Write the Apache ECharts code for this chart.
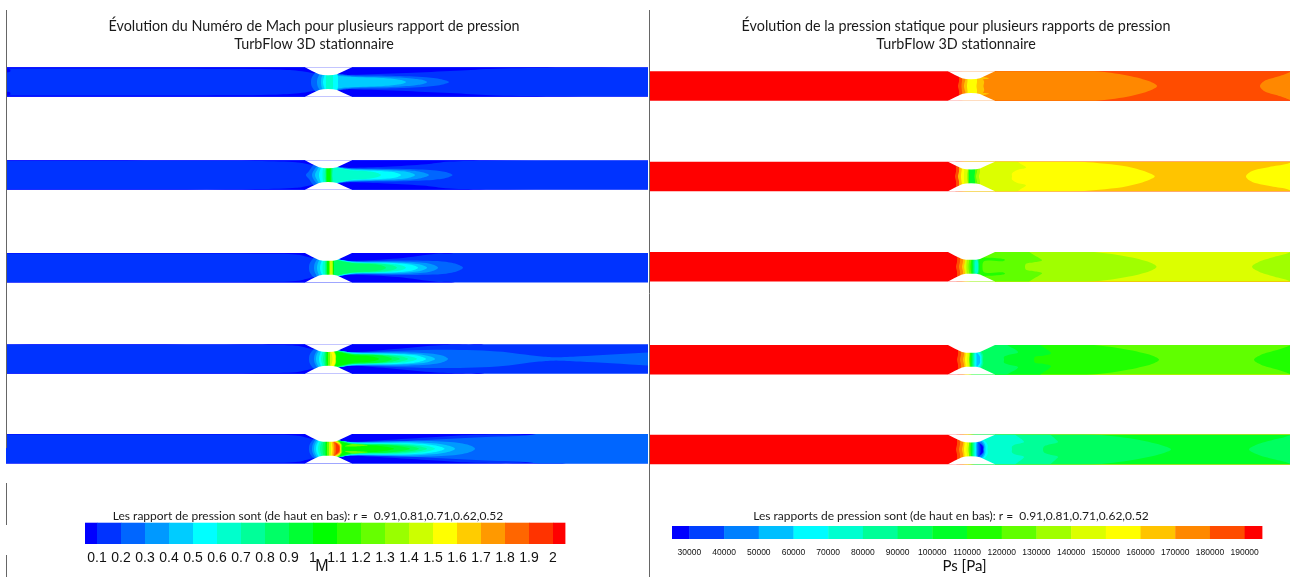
<!DOCTYPE html>
<html><head><meta charset="utf-8">
<style>html,body{margin:0;padding:0;background:#fff}#c{width:1291px;height:577px}</style>
<script src="https://cdn.jsdelivr.net/npm/echarts@6/dist/echarts.min.js"></script>
</head><body><div id="c"></div>
<script>
// Colour scales
const machColors=['#0000ff','#0033ff','#0066ff','#0099ff','#00ccff','#00ffff','#00ffcc','#00ff99','#00ff66','#00ff33','#00ff00','#33ff00','#66ff00','#99ff00','#ccff00','#ffff00','#ffcc00','#ff9900','#ff6600','#ff3300','#ff0000'];
const machEdges=[0.05,0.1,0.2,0.3,0.4,0.5,0.6,0.7,0.8,0.9,1,1.1,1.2,1.3,1.4,1.5,1.6,1.7,1.8,1.9,2,2.05];
const psColors=['#0000ff','#0040ff','#0080ff','#00bfff','#00fcff','#00ffd0','#00ff98','#00ff60','#00ff28','#20ff00','#60ff00','#a0ff00','#dcff00','#ffff00','#ffc400','#ff8800','#ff4c00','#ff0000'];
const psEdges=[25000,30000,40000,50000,60000,70000,80000,90000,100000,110000,120000,130000,140000,150000,160000,170000,180000,190000,195000];
// Nozzle wall, [axial position, half height]
const wallProfile=[[299,16],[299,15],[306,11.3],[313,8],[317,7.2],[322,7],[327,7.2],[331,8],[338,11.3],[346,15],[346,16]];
// Contour bands: [colour index, outline of upper half]; a band closed on the axis joins its mirror image
const mach1=[
[1,[[-5,-20],[660,-20],[660,20],[-5,20]]],
[0,[[-40,40],[-40,13.8],[-30,13.8],[100,13.7],[200,13.6],[270,12.8],[296,11],[322,6.5],[346,7.3],[400,9.2],[450,11.5],[490,13.6],[560,14.5],[700,14.8],[710,14.8],[720,14.8],[720,40]]],
[0,[[-5,13.5],[4,13],[4,10.5],[-5,10.5]]],
[2,[[305,0],[306,5],[312,11],[335,8],[346,6.9],[385,6.4],[420,4.8],[437,2.4],[443,0]]],
[3,[[311,0],[312,5],[316,10],[332,7.5],[346,5.9],[385,5],[408,3.4],[418,1.7],[421,0]]],
[4,[[315,0],[316,6],[320,10],[332,6.5],[346,5.2],[375,4.2],[392,2.6],[398,1.2],[400,0]]],
[5,[[317,0],[318,5],[320,10],[330,10],[332,5],[332,0]]],
[6,[[320,0],[320,5],[321,9],[326,9],[327,5],[327,0]]]];
const mach2=[
[1,[[-5,-20],[660,-20],[660,20],[-5,20]]],
[0,[[-40,40],[-40,14.4],[-30,14.4],[100,14.4],[250,14.3],[290,13],[300,11.5],[322,6.5],[346,7.3],[380,8.5],[420,11],[440,13.4],[480,14.6],[700,14.9],[710,14.9],[720,14.9],[720,40]]],
[2,[[300,0],[303,4],[309,11],[335,8],[346,7],[400,6.2],[430,4.6],[442,2.4],[446.5,0]]],
[3,[[306,0],[308,5],[313,10],[335,7.5],[346,6.4],[395,5.2],[415,3.2],[423,0]]],
[4,[[309,0],[311,5],[315,10],[335,7],[346,5.9],[385,4.6],[403,2.8],[409,0]]],
[5,[[313,0],[314,5],[317,10],[335,7],[346,5.2],[375,4],[390,2.4],[395,0]]],
[6,[[316.5,0],[317,6],[319,10],[333,7],[346,4.8],[360,4],[371,2.2],[375,0]]],
[7,[[318.6,0],[319,5],[320,10],[327,10],[327,5],[326.5,0]]],
[9,[[320,0],[320,5],[321,10],[325.5,10],[325.5,5],[325.5,0]]],
[10,[[321,0],[321,5],[321.5,9],[324.5,9],[324.5,5],[324.5,0]]]];
const mach3=[
[1,[[-5,-20],[660,-20],[660,20],[-5,20]]],
[0,[[-40,40],[-40,14.5],[-30,14.5],[100,14.4],[250,14.3],[290,13.5],[300,11.5],[322,6.5],[346,7],[392,9.5],[430,14.3],[450,16],[470,40]]],
[2,[[303,0],[304,5],[310,11],[335,8],[346,6.7],[400,7.4],[440,6],[453,2.8],[457,0]]],
[3,[[308,0],[309,5],[314,11],[335,8],[346,6.5],[400,6.2],[425,3.8],[432,0]]],
[4,[[311,0],[312,5],[316,11],[335,8],[346,6.1],[395,5.2],[415,3],[421,0]]],
[5,[[314,0],[315,5],[318,10],[335,8],[346,5.8],[390,4.6],[407,2.6],[412,0]]],
[6,[[316.5,0],[317,5],[319,10],[335,7],[346,5.4],[385,4],[396,2.2],[400,0]]],
[7,[[319,0],[319,5],[320,10],[335,7],[346,5.2],[375,4.1],[387,2.2],[391,0]]],
[8,[[320,0],[320,5],[321,10],[335,7],[346,4.8],[368,3.6],[377,1.9],[380,0]]],
[10,[[321,0],[321,5],[322,9],[327,9],[328,4],[328,0]]],
[12,[[323,0],[323,5],[323,9],[326.5,9],[327,4],[327,0]]],
[14,[[324,0],[324,5],[324,8],[326,8],[326.5,4],[326.5,0]]]];
const mach4=[
[1,[[-5,-20],[660,-20],[660,20],[-5,20]]],
[0,[[-40,40],[-40,14.6],[-30,14.6],[100,14.5],[250,14.4],[290,13.5],[300,11.5],[322,6.5],[346,6.7],[388,10],[429,13.7],[460,14.8],[480,16],[500,40]]],
[2,[[303,0],[304,5],[310,11],[335,8],[346,6.8],[429,9.3],[491,7.7],[533,2.7],[550,1.7],[574,2.7],[642,6.6],[720,11],[720,0]]],
[3,[[308,0],[309,5],[313,10],[335,8],[346,6.8],[400,6.8],[430,4.8],[439,2.4],[442,0]]],
[4,[[310,0],[311,5],[315,10],[335,8],[346,6.5],[395,5.6],[420,3.6],[429,0]]],
[5,[[313,0],[314,5],[317,10],[335,8],[346,6.1],[395,4.9],[413,3],[420,0]]],
[6,[[315,0],[316,5],[318,10],[335,8],[346,5.7],[385,4.4],[404,2.6],[411,0]]],
[7,[[317,0],[318,5],[320,10],[335,8],[346,5.4],[380,4.1],[396,2.4],[402,0]]],
[8,[[319,0],[319,5],[320,10],[335,7],[346,5.1],[375,3.8],[388,2.2],[394,0]]],
[9,[[320,0],[320,5],[321,10],[335,7],[346,4.8],[372,3.8],[382,2],[386,0]]],
[10,[[320.5,0],[321,5],[321,9],[333,7],[346,4],[362,3],[370,1.6],[373,0]]],
[12,[[322,0],[322,5],[322.5,9],[328,8],[330,4],[330,0]]],
[14,[[324,0],[324,4],[324,8],[327,8],[329.5,4],[329.5,0]]],
[15,[[326.5,0],[326,4],[325,8],[327,8],[329,4],[329.3,0]]]];
const mach5=[
[1,[[-5,-20],[660,-20],[660,20],[-5,20]]],
[0,[[-40,40],[-40,14.6],[-30,14.6],[100,14.5],[250,14.4],[290,13.5],[300,11.5],[322,6.5],[346,7],[390,9.5],[430,12],[460,13.8],[500,14.7],[560,15.5],[590,40]]],
[2,[[303,0],[304,5],[310,11],[335,8],[346,6.9],[400,8],[440,10],[480,12],[533,15.5],[600,40],[720,40],[720,0]]],
[3,[[306,0],[307,5],[312,11],[335,8],[346,6.8],[420,8],[455,5.6],[466,2.5],[469,0]]],
[4,[[308,0],[309,5],[314,11],[335,8],[346,6.5],[410,6.6],[440,3.8],[449,0]]],
[5,[[310,0],[311,5],[315,10],[335,8],[346,6.2],[405,5.6],[430,3.2],[438.5,0]]],
[6,[[312,0],[313,5],[316,10],[335,8],[346,5.9],[400,5],[421,2.8],[429,0]]],
[7,[[314,0],[315,5],[318,10],[335,8],[346,5.6],[390,4.5],[413,2.5],[421,0]]],
[8,[[316.5,0],[317,5],[319,10],[335,8],[346,5.2],[385,4.1],[406,2.2],[413,0]]],
[9,[[318.6,0],[319,5],[320,10],[335,7.5],[346,4.8],[380,3.8],[397,2],[404,0]]],
[10,[[320,0],[320,5],[321,10],[335,7],[346,4.3],[370,3.2],[382,1.7],[388,0]]],
[12,[[339,2.5],[345,4.6],[355,4.3],[362,3.4],[350,2.4]]],
[12,[[321,0],[321,5],[322,9],[332,8],[336,4],[336,0]]],
[14,[[323,0],[323,5],[323.5,9],[331,8],[335,4],[335,0]]],
[15,[[325,0],[325,5],[325,8.5],[330,7.5],[334.5,4],[334.5,0]]],
[16,[[326.5,0],[326,4],[326,8],[330,7],[334,4],[334.3,0]]],
[17,[[327.5,0],[327.5,4],[327,7.5],[330,6.5],[334,3.5],[334,0]]],
[18,[[328.5,0],[328.5,3],[328,7],[330,6],[333.5,3],[333.8,0]]],
[19,[[330,0],[330,3],[329.5,6],[331,5],[333,2.5],[333.4,0]]]];
const pressure1=[
[17,[[-5,-20],[660,-20],[660,20],[-5,20]]],
[16,[[309,0],[310,5],[315,40],[720,40],[720,0]]],
[15,[[312.5,0],[313,5],[320,40],[415,17],[449,15],[482,10],[503,3.7],[508,0]]],
[15,[[611,0],[615,5],[630,10],[641,14.3],[680,40],[720,40],[720,0]]],
[14,[[315,0],[316,5],[318,10],[330,10],[335,5],[334.5,0]]],
[14,[[326,6.5],[335,7],[340,7.7],[335,9],[326,9]]],
[13,[[318,0],[318.5,5],[319,10],[327,10],[328,5],[327.5,0]]]];
const pressure2=[
[17,[[-5,-20],[660,-20],[660,20],[-5,20]]],
[16,[[306,0],[307,5],[312,40],[720,40],[720,0]]],
[14,[[309,0],[310,5],[315,40],[720,40],[720,0]]],
[13,[[312,0],[313,8],[320,40],[400,17],[433,15],[478,10],[500,3.5],[505.7,0]]],
[13,[[597,0],[602,5],[622,10],[641,14],[680,40],[720,40],[720,0]]],
[12,[[315,0],[315.5,8],[324,40],[358,25],[370,14],[377,9],[368,6.5],[363,3],[363,0]]],
[11,[[318,0],[318.5,5],[320,10],[330,10],[331,5],[330,0]]],
[10,[[319,0],[319,5],[320,10],[328,10],[328,5],[327,0]]],
[8,[[320,0],[320,5],[320.5,10],[325.5,10],[326,5],[325.5,0]]]];
const pressure3=[
[17,[[-5,-20],[660,-20],[660,20],[-5,20]]],
[16,[[307,0],[308,5],[313,40],[720,40],[720,0]]],
[15,[[310,0],[311,5],[316,40],[720,40],[720,0]]],
[14,[[313,0],[314,5],[319,40],[720,40],[720,0]]],
[12,[[315,0],[316,5],[321,40],[720,40],[720,0]]],
[11,[[317.4,0],[318,8],[325,40],[412,17],[445,15],[480,10],[503,3.5],[507.5,0]]],
[11,[[603,0],[610,5],[625,10],[641,14.7],[680,40],[720,40],[720,0]]],
[10,[[319.5,0],[320,5],[327,40],[372,25],[381,14.5],[390,9],[393,6.5],[385,4.5],[377,3],[376,0]]],
[9,[[321.5,0],[322,5],[323,8],[354,8],[356,7],[354,5.7],[335,5.5],[333.5,0]]],
[8,[[323,0],[323,5],[323.5,9],[329,9],[331,5],[331,0]]],
[7,[[324,0],[324,5],[325,9],[328.5,9],[330,5],[330,0]]],
[6,[[325,0],[325,5],[326,8],[328,8],[329,5],[329.5,0]]],
[5,[[326,0],[326,4],[327,7],[328,7],[329,4],[329,0]]]];
const pressure4=[
[17,[[-5,-20],[660,-20],[660,20],[-5,20]]],
[16,[[308,0],[309,5],[314,40],[720,40],[720,0]]],
[15,[[311,0],[312,5],[317,40],[720,40],[720,0]]],
[14,[[314,0],[315,5],[320,40],[720,40],[720,0]]],
[13,[[316,0],[316.5,5],[321,40],[720,40],[720,0]]],
[12,[[318,0],[318.5,5],[323,40],[720,40],[720,0]]],
[10,[[320,0],[320.5,5],[325,40],[720,40],[720,0]]],
[9,[[321,0],[321.5,8],[327,40],[412,17],[445,15],[480,10],[505,3.5],[510,0]]],
[9,[[605,0],[612,5],[628,10],[641,14.5],[680,40],[720,40],[720,0]]],
[8,[[322,0],[322,8],[328,40],[382,25],[392,14.5],[400,9],[402,6.5],[394,4],[386,3],[385,0]]],
[7,[[323,0],[323,8],[329,40],[350,25],[359,14.5],[367,10],[369,7.5],[360,5],[355,3],[355,0]]],
[6,[[324,0],[324,5],[325,9],[331,9],[334,5],[334,0]]],
[5,[[325,0],[325,5],[326,9],[330,9],[332.5,5],[333,0]]],
[4,[[326,0],[326,5],[327,8],[329,8],[332,4],[332,0]]],
[3,[[327.5,0],[327.5,4],[327.5,7],[329,6],[331,3],[331,0]]]];
const pressure5=[
[17,[[-5,-20],[660,-20],[660,20],[-5,20]]],
[16,[[307,0],[308,5],[313,40],[720,40],[720,0]]],
[15,[[310,0],[311,5],[316,40],[720,40],[720,0]]],
[14,[[313,0],[314,5],[319,40],[720,40],[720,0]]],
[13,[[315,0],[315.5,5],[320,40],[720,40],[720,0]]],
[12,[[317.4,0],[318,5],[323,40],[720,40],[720,0]]],
[10,[[319.5,0],[320,5],[325,40],[720,40],[720,0]]],
[8,[[321.5,0],[322,8],[327,40],[720,40],[720,0]]],
[7,[[323,0],[323,8],[329,40],[417,17],[450,15],[488,10],[515,3.5],[522,0]]],
[7,[[600,0],[608,5],[625,10],[641,14.5],[680,40],[720,40],[720,0]]],
[6,[[324,0],[324,8],[330,40],[392,25],[402,14.5],[407,10],[409,7.5],[400,5],[395,3],[394,0]]],
[5,[[325,0],[325,8],[331,40],[358,25],[367,14.5],[373,10],[375,7.5],[366,5],[363,3],[363,0]]],
[4,[[326,0],[326,5],[326.5,9],[335,9],[338.5,5],[338.5,0]]],
[3,[[327,0],[327,5],[328,9],[333,9],[336,5],[336.5,0]]],
[2,[[328,0],[328,5],[329,8],[332,8],[335,4],[335,0]]],
[1,[[329.5,0],[329.5,4],[329.5,7],[331,6.5],[334.5,3],[334.5,0]]],
[0,[[331.5,0],[331.5,3],[331,5.5],[332,5],[334,2.5],[334,0]]]];
// Text
const machTitle='Évolution du Numéro de Mach pour plusieurs rapport de pression\nTurbFlow 3D stationnaire';
const psTitle='Évolution de la pression statique pour plusieurs rapports de pression\nTurbFlow 3D stationnaire';
const machNote='Les rapport de pression sont (de haut en bas): r =  0.91,0.81,0.71,0.62,0.52';
const psNote='Les rapports de pression sont (de haut en bas): r =  0.91,0.81,0.71,0.62,0.52';
const machUnit='M', psUnit='Ps [Pa]';

const machStrips=[mach1,mach2,mach3,mach4,mach5];
const psStrips=[pressure1,pressure2,pressure3,pressure4,pressure5];
const machTops=[67.3,160.3,253,344.2,434];
const psTops=[71.3,161.7,252,345,434.7];

// Rounds a closed contour outline (centripetal Catmull-Rom, does not overshoot)
function roundLoop(pts){
  const n=pts.length,out=[];
  const gap=(a,b)=>Math.max(Math.sqrt(Math.hypot(a[0]-b[0],a[1]-b[1])),1e-3);
  const mix=(a,b,ta,tb,t)=>[a[0]*(tb-t)/(tb-ta)+b[0]*(t-ta)/(tb-ta),a[1]*(tb-t)/(tb-ta)+b[1]*(t-ta)/(tb-ta)];
  for(let i=0;i<n;i++){
    const p0=pts[(i-1+n)%n],p1=pts[i],p2=pts[(i+1)%n],p3=pts[(i+2)%n];
    const t0=0,t1=t0+gap(p0,p1),t2=t1+gap(p1,p2),t3=t2+gap(p2,p3);
    for(let j=0;j<8;j++){
      const t=t1+(t2-t1)*j/8;
      const a1=mix(p0,p1,t0,t1,t),a2=mix(p1,p2,t1,t2,t),a3=mix(p2,p3,t2,t3,t);
      const b1=mix(a1,a2,t0,t2,t),b2=mix(a2,a3,t1,t3,t);
      out.push(mix(b1,b2,t1,t2,t));
    }
  }
  return out;
}

const grid=[],xAxis=[],yAxis=[],series=[];
function addStrip(bands,colors,left,width,top){
  const i=grid.length;
  grid.push({left,width,top,height:29.5});
  xAxis.push({type:'value',gridIndex:i,min:0,max:width,show:false});
  yAxis.push({type:'value',gridIndex:i,min:-15,max:15,show:false});
  const shapes=[];
  bands.forEach(([c,pts])=>{
    const a=pts[0],b=pts[pts.length-1];
    if(pts.length===4&&a[1]===-20){shapes.push({fill:colors[c],pts});return;}
    const mirror=pts.map(([x,y])=>[x,-y]).reverse();
    if(a[1]===0&&b[1]===0){shapes.push({fill:colors[c],pts:roundLoop(pts.concat(mirror.slice(1,-1)))});}
    else{shapes.push({fill:colors[c],pts:roundLoop(pts)});shapes.push({fill:colors[c],pts:roundLoop(mirror)});}
  });
  shapes.push({fill:'#fff',pts:wallProfile});
  shapes.push({fill:'#fff',pts:wallProfile.map(([x,y])=>[x,-y])});
  series.push({type:'custom',xAxisIndex:i,yAxisIndex:i,coordinateSystem:'cartesian2d',clip:true,silent:true,animation:false,
    data:shapes.map((s,k)=>[k]),encode:{x:0,y:0},
    renderItem:(p,api)=>{const s=shapes[api.value(0)];
      return {type:'polygon',shape:{points:s.pts.map(q=>api.coord(q))},style:{fill:s.fill,stroke:null}};}});
}
machStrips.forEach((b,k)=>addStrip(b,machColors,6,642,machTops[k]));
psStrips.forEach((b,k)=>addStrip(b,psColors,649,641,psTops[k]));

function addBar(edges,colors,left,width,top,height,min,max,interval,fontSize,margin,fmt){
  const i=grid.length;
  grid.push({left,width,top,height});
  xAxis.push({type:'value',gridIndex:i,min,max,interval,axisLine:{show:false},axisTick:{show:false},splitLine:{show:false},
    axisLabel:{show:true,fontFamily:'Liberation Sans',fontSize,color:'#111',margin,showMinLabel:false,showMaxLabel:false,formatter:fmt}});
  yAxis.push({type:'value',gridIndex:i,min:0,max:1,show:false});
  series.push({type:'custom',xAxisIndex:i,yAxisIndex:i,silent:true,animation:false,
    data:colors.map((c,k)=>[edges[k],edges[k+1],k]),encode:{x:[0,1]},
    renderItem:(p,api)=>{const a=api.coord([api.value(0),1]),b=api.coord([api.value(1),0]);
      return {type:'rect',shape:{x:a[0],y:a[1],width:b[0]-a[0]+0.4,height:b[1]-a[1]},style:{fill:colors[api.value(2)]}};}});
}
addBar(machEdges,machColors,73,492,522.7,21.3,0,2.05,0.1,14,7,v=>String(+(+v).toFixed(1)));
addBar(psEdges,psColors,654.65,607.35,526,13,20000,195000,10000,8.5,9.5,v=>String(Math.round(v)));

const head={fontFamily:'Lato',fontSize:14.35,fontWeight:'normal',color:'#1a1a1a',lineHeight:18};
const note={fontFamily:'Lato',fontSize:12,fontWeight:'normal',color:'#1a1a1a'};
const title=[
 {text:machTitle,left:314,top:17,textAlign:'center',padding:0,textStyle:head},
 {text:psTitle,left:956,top:17,textAlign:'center',padding:0,textStyle:head},
 {text:machNote,left:308,top:510,textAlign:'center',padding:0,textStyle:note},
 {text:psNote,left:951,top:510,textAlign:'center',padding:0,textStyle:note},
 {text:machUnit,left:322,top:559,textAlign:'center',padding:0,textStyle:{fontFamily:'Liberation Sans',fontSize:16,fontWeight:'normal',color:'#111'}},
 {text:psUnit,left:964.5,top:558.5,textAlign:'center',padding:0,textStyle:{fontFamily:'Lato',fontSize:15,fontWeight:'normal',color:'#111'}}
];
const rule=(x,y1,y2)=>({type:'line',shape:{x1:x,y1,x2:x,y2},style:{stroke:'#666',lineWidth:1},z:10,silent:true});
const chart=echarts.init(document.getElementById('c'),null,{renderer:'canvas'});
chart.setOption({animation:false,backgroundColor:'#fff',title,grid,xAxis,yAxis,series,tooltip:{show:false},
 graphic:[rule(6.5,10,448),rule(6.5,483,525),rule(6.5,555,577),rule(649.5,10,577)]});
</script></body></html>
